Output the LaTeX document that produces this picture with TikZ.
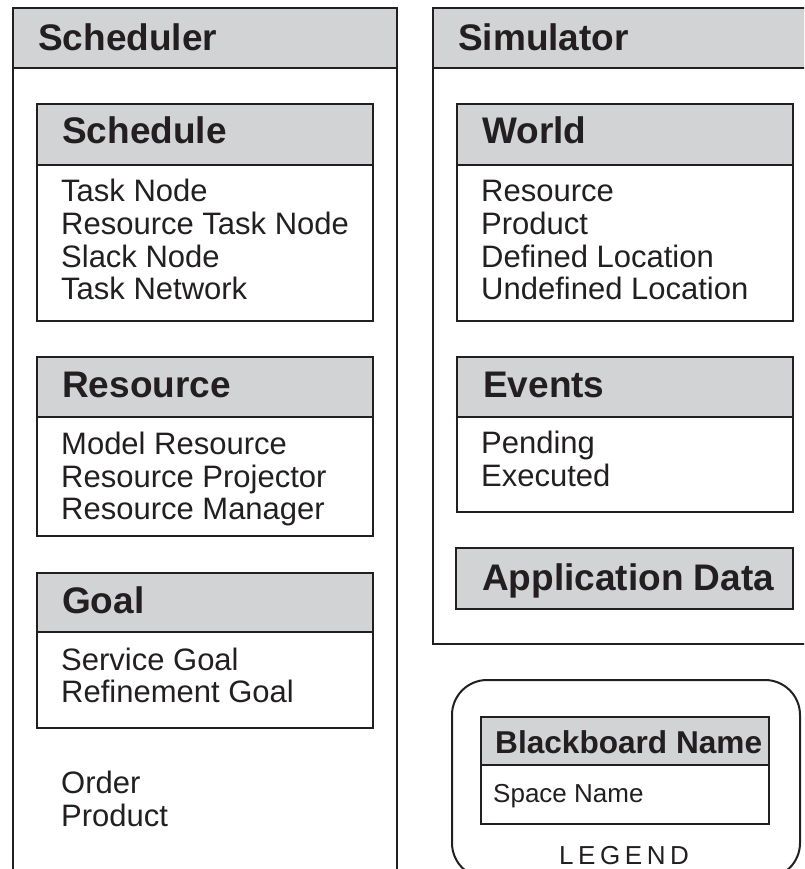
\documentclass[tikz,border=0pt]{standalone}
\usepackage{fontspec}
\setmainfont{Liberation Sans}
\definecolor{ink}{HTML}{231F20}
\definecolor{hdrgray}{HTML}{D1D3D4}
\tikzset{
  frame/.style={draw=ink, line width=2pt},
  hdrfill/.style={fill=hdrgray},
  bigtitle/.style={anchor=base west, inner sep=0pt, text=ink, font=\fontsize{37}{40}\selectfont\bfseries},
  subtitle/.style={anchor=base west, inner sep=0pt, text=ink, font=\fontsize{37}{40}\selectfont\bfseries},
  item/.style={anchor=base west, inner sep=0pt, text=ink, font=\fontsize{31}{33}\selectfont},
  legtitle/.style={anchor=base west, inner sep=0pt, text=ink, font=\fontsize{31.6}{34}\selectfont\bfseries},
  legitem/.style={anchor=base west, inner sep=0pt, text=ink, font=\fontsize{26}{28}\selectfont},
  legcap/.style={anchor=base, inner sep=0pt, text=ink, font=\fontsize{26}{28}\selectfont},
}
\begin{document}
\begin{tikzpicture}[x=1pt,y=-1pt]
\useasboundingbox (0,0) rectangle (804,869);
\clip (0,0) rectangle (804,869);

% ---------- Scheduler panel ----------
\fill[hdrfill] (13,8) rectangle (397,68);
\draw[frame] (13,890) -- (13,8) -- (397,8) -- (397,890);
\draw[frame] (13,68) -- (397,68);
\node[bigtitle] (scheduler) at (38,51) {Scheduler};

% Schedule
\fill[hdrfill] (37,104) rectangle (373,165);
\draw[frame] (37,104) rectangle (373,321);
\draw[frame] (37,165) -- (373,165);
\node[subtitle] (schedule) at (62,144) {Schedule};
\node[item] (s1) at (61,201) {Task Node};
\node[item] (s2) at (61,234) {Resource Task Node};
\node[item] (s3) at (61,267) {Slack Node};
\node[item] (s4) at (61,299) {Task Network};

% Resource
\fill[hdrfill] (37,357) rectangle (373,417);
\draw[frame] (37,357) rectangle (373,536);
\draw[frame] (37,417) -- (373,417);
\node[subtitle] (resource) at (62,397) {Resource};
\node[item] (r1) at (61,454) {Model Resource};
\node[item] (r2) at (61,487) {Resource Projector};
\node[item] (r3) at (61,519) {Resource Manager};

% Goal
\fill[hdrfill] (37,573) rectangle (373,632);
\draw[frame] (37,573) rectangle (373,728);
\draw[frame] (37,632) -- (373,632);
\node[subtitle] (goal) at (62,613) {Goal};
\node[item] (g1) at (61,670) {Service Goal};
\node[item] (g2) at (61,702) {Refinement Goal};

\node[item] (order) at (61,793) {Order};
\node[item] (product) at (61,826) {Product};

% ---------- Simulator panel ----------
\fill[hdrfill] (433,8) rectangle (820,68);
\draw[frame] (820,8) -- (433,8) -- (433,644) -- (820,644);
\draw[frame] (433,68) -- (820,68);
\node[bigtitle] (simulator) at (458,51) {Simulator};

% World
\fill[hdrfill] (457,104) rectangle (793,165);
\draw[frame] (457,104) rectangle (793,321);
\draw[frame] (457,165) -- (793,165);
\node[subtitle] (world) at (482,144) {World};
\node[item] (w1) at (481,201) {Resource};
\node[item] (w2) at (481,234) {Product};
\node[item] (w3) at (481,267) {Defined Location};
\node[item] (w4) at (481,299) {Undefined Location};

% Events
\fill[hdrfill] (457,357) rectangle (793,417);
\draw[frame] (457,357) rectangle (793,512);
\draw[frame] (457,417) -- (793,417);
\node[subtitle] (events) at (483,397) {Events};
\node[item] (e1) at (481,453) {Pending};
\node[item] (e2) at (481,486) {Executed};

% Application Data
\filldraw[frame, hdrfill] (456,548) rectangle (793,609);
\node[subtitle] (appdata) at (482,590) {Application Data};

% ---------- Legend ----------
\draw[frame, rounded corners=35pt] (452,680) rectangle (800,878);
\fill[hdrfill] (481,717) rectangle (769,765);
\draw[frame] (481,717) rectangle (769,824);
\draw[frame] (481,765) -- (769,765);
\node[legtitle] (bbname) at (495,753) {Blackboard Name};
\node[legitem] (spname) at (493,802) {Space Name};
\node[legcap] (legend) at (624,864) {L\kern4.6pt E\kern4.6pt G\kern4.6pt E\kern4.6pt N\kern4.6pt D};
\end{tikzpicture}
\end{document}
